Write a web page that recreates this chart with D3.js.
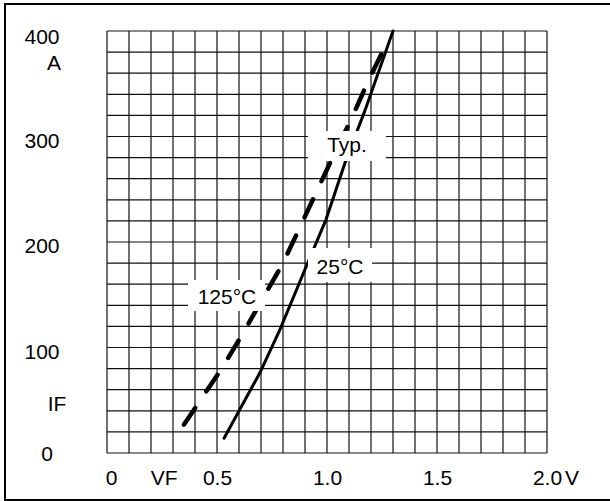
<!DOCTYPE html>
<html>
<head>
<meta charset="utf-8">
<script src="https://cdn.jsdelivr.net/npm/d3@7"></script>
<style>
	body { margin: 0; background: #fff; }
	svg { display: block; }
	text { font-family: "Liberation Sans", Arial, sans-serif; font-size: 21px; fill: #000; }
</style>
</head>
<body>
<svg id="chart" width="610" height="501"></svg>
<script>
// forward characteristic, IF vs VF
var vf25 = [0.532, 0.695, 0.786, 0.914, 0.995, 1.082, 1.173, 1.30];
var if25 = [14, 76, 117, 181, 221, 275, 325, 400];

var vf125 = [0.35, 0.518, 0.614, 0.80, 0.877, 1.014, 1.114, 1.186, 1.268];
var if125 = [27, 79, 112, 180, 214, 275, 318, 352, 387];

var xTicks = [0, 0.5, 1.0, 1.5, 2.0];
var xTickLabels = ['0', '0.5', '1.0', '1.5', '2.0'];
var yTicks = [0, 100, 200, 300, 400];
var yTickLabels = ['0', '100', '200', '300', '400'];

var svg = d3.select('#chart');

var x = d3.scaleLinear().domain([0, 2]).range([107, 547]);
var y = d3.scaleLinear().domain([0, 400]).range([453, 31]);

// outer frame
svg.append('rect')
	.attr('x', 5).attr('y', 4)
	.attr('width', 608).attr('height', 496)
	.attr('fill', 'none')
	.attr('stroke', '#000')
	.attr('stroke-width', 2);

// grid, 0.1 V by 20 A
var grid = svg.append('g');
d3.range(0, 21).forEach(function(i){
	grid.append('line')
		.attr('x1', x(i / 10)).attr('x2', x(i / 10))
		.attr('y1', y(0)).attr('y2', y(400))
		.attr('stroke', '#111').attr('stroke-width', 1.2);
	grid.append('line')
		.attr('x1', x(0)).attr('x2', x(2))
		.attr('y1', y(i * 20)).attr('y2', y(i * 20))
		.attr('stroke', '#111').attr('stroke-width', 1.2);
});

// axes (labels only, no tick marks)
var xAxis = svg.append('g')
	.attr('transform', 'translate(0,' + 478 + ')')
	.call(d3.axisBottom(x).tickValues(xTicks).tickSize(0).tickPadding(0)
		.tickFormat(function(d, i){ return xTickLabels[i]; }));
xAxis.select('.domain').remove();
xAxis.selectAll('text')
	.attr('dy', '0.35em')
	.attr('dx', function(d){ return d === 0 ? 4 : 0; })
	.style('font-size', '21px')
	.style('font-family', '"Liberation Sans", Arial, sans-serif');

var yAxis = svg.append('g')
	.attr('transform', 'translate(42,0)')
	.call(d3.axisLeft(y).tickValues(yTicks).tickSize(0).tickPadding(0)
		.tickFormat(function(d, i){ return yTickLabels[i]; }));
yAxis.select('.domain').remove();
yAxis.selectAll('text')
	.attr('text-anchor', 'middle')
	.attr('dy', function(d){ return d === 0 ? '0.35em' : (d === 400 ? '0.6em' : '0.5em'); })
	.attr('dx', function(d){ return d === 0 ? 5 : 0; })
	.style('font-size', '21px')
	.style('font-family', '"Liberation Sans", Arial, sans-serif');

// unit labels
svg.append('text').attr('x', x(0.26)).attr('y', 478).attr('dy', '0.35em')
	.attr('text-anchor', 'middle').text('VF');
svg.append('text').attr('x', x(2.0) + 18).attr('y', 478).attr('dy', '0.35em')
	.attr('text-anchor', 'start').text('V');
svg.append('text').attr('x', 61).attr('y', y(370)).attr('dy', '0.35em')
	.attr('text-anchor', 'end').text('A');
svg.append('text').attr('x', 57).attr('y', y(50)).attr('dy', '0.5em')
	.attr('text-anchor', 'middle').text('IF');

// curves
var line = d3.line()
	.x(function(d){ return x(d[0]); })
	.y(function(d){ return y(d[1]); });

svg.append('path')
	.datum(vf125.map(function(v, i){ return [v, if125[i]]; }))
	.attr('d', line)
	.attr('fill', 'none')
	.attr('stroke', '#000')
	.attr('stroke-width', 4.5)
	.attr('stroke-linecap', 'round')
	.attr('stroke-dasharray', '20,20');

svg.append('path')
	.datum(vf25.map(function(v, i){ return [v, if25[i]]; }))
	.attr('d', line)
	.attr('fill', 'none')
	.attr('stroke', '#000')
	.attr('stroke-width', 3)
	.attr('stroke-linecap', 'round');

// white label boxes over grid and curves
function boxLabel(x0, y0, w, h, cx, cy, txt){
	svg.append('rect')
		.attr('x', x0).attr('y', y0)
		.attr('width', w).attr('height', h)
		.attr('fill', '#fff');
	svg.append('text')
		.attr('x', cx).attr('y', cy).attr('dy', '0.35em')
		.attr('text-anchor', 'middle')
		.text(txt);
}

boxLabel(308, 131, 78, 30, 347, 145, 'Typ.');
boxLabel(188, 280, 77, 31, 227, 297, '125°C');
boxLabel(308, 248, 64, 34, 340, 267, '25°C');
</script>
</body>
</html>
